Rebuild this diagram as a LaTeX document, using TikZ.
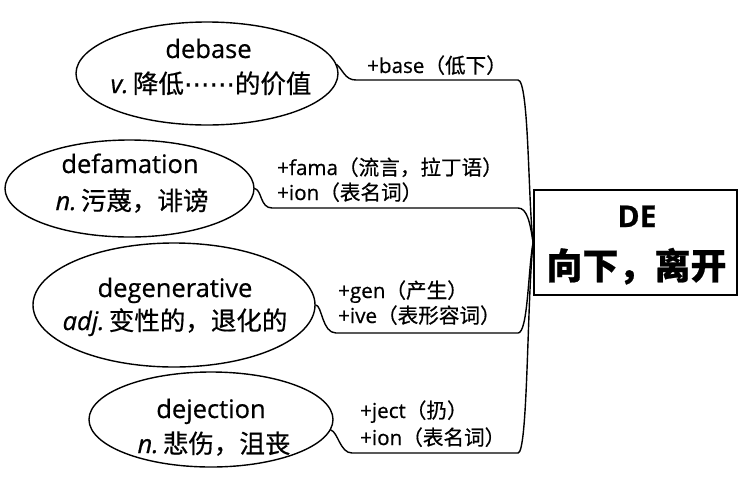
\documentclass[tikz,border=0pt]{standalone}
\usepackage{fontspec}
\usepackage{graphicx}
\setmainfont{Open Sans}[FakeBold=0.6]
\newfontfamily\cjk{Noto Sans CJK SC}[FakeBold=0.6]
\newfontfamily\symf{DejaVu Sans}[FakeBold=0.6]
\newcommand\zhtxt[1]{{\cjk #1}}
\usetikzlibrary{shapes.geometric}
\begin{document}
\begin{tikzpicture}[x=1pt,y=-1pt,
  bubble/.style={ellipse, draw, line width=1.4pt, inner sep=0pt},
  big/.style={font=\fontsize{25.5}{30}\selectfont, anchor=base, inner sep=0pt},
  lab/.style={font=\fontsize{20.6}{24}\selectfont, anchor=base west, inner sep=0pt},
  link/.style={line width=1.4pt, line cap=round, line join=round},
  rootbox/.style={draw, line width=1.8pt, inner sep=0pt, minimum width=203pt, minimum height=105pt}
]
\useasboundingbox (0,0) rectangle (738,477);
% root
\node[rootbox] (de) at (635.5,242.5) {};
\node[anchor=base, inner sep=0pt, font=\fontsize{30}{34}\selectfont\bfseries] (det) at (637,227) {DE};
\node[anchor=base, inner sep=0pt, font=\fontsize{36}{40}\selectfont] (dezh) at (636.5,279) {\cjk\bfseries 向下，离开};
% ellipses
\node[bubble, minimum width=262pt, minimum height=103pt] (e1) at (207,73.5) {};
\node[bubble, minimum width=249pt, minimum height=97pt] (e2) at (129.5,188.5) {};
\node[bubble, minimum width=282pt, minimum height=124pt] (e3) at (174,305) {};
\node[bubble, minimum width=244pt, minimum height=95pt] (e4) at (211,419.5) {};
% ellipse texts
\node[big] (t1a) at (208.5,58) {debase};
\node[big] (t1b) at (211,93) {\textit{v.}\,\zhtxt{降低}{\symf ⋯⋯}\zhtxt{的价值}};
\node[big] (t2a) at (130,173) {defamation};
\node[big] (t2b) at (132,210) {\textit{n.}\,\zhtxt{污蔑，诽谤}};
\node[big] (t3a) at (175,297) {degenerative};
\node[big] (t3b) at (175,330) {\textit{adj.}\,\zhtxt{变性的，退化的}};
\node[big] (t4a) at (211,418) {dejection};
\node[big] (t4b) at (214,453) {\textit{n.}\,\zhtxt{悲伤，沮丧}};
% labels
\node[lab] (l1) at (367,73) {+base\zhtxt{（低下）}};
\node[lab] (l2a) at (277,175) {+fama\zhtxt{（流言，拉丁语）}};
\node[lab] (l2b) at (277,200) {+ion\zhtxt{（表名词）}};
\node[lab] (l3a) at (338,298) {+gen\zhtxt{（产生）}};
\node[lab] (l3b) at (338,323) {+ive\zhtxt{（表形容词）}};
\node[lab] (l4a) at (360,418) {+ject\zhtxt{（扔）}};
\node[lab] (l4b) at (360,445) {+ion\zhtxt{（表名词）}};
% connectors
\draw[link] (e1.4) .. controls (343,70) and (345,80) .. (356,80) -- (518,80) .. controls (529,80) and (528,200) .. (de.west);
\draw[link] (e2.east) .. controls (262,190) and (260,208) .. (272,208) -- (518,208) .. controls (527,208) and (530,222) .. (de.west);
\draw[link] (e3.east) .. controls (322,305) and (322,333) .. (336,333) -- (518,333) .. controls (528,333) and (528,270) .. (de.west);
\draw[link] (e4.-5) .. controls (338,432) and (340,453) .. (352,453) -- (518,453) .. controls (528,453) and (527,300) .. (de.west);
\end{tikzpicture}
\end{document}
